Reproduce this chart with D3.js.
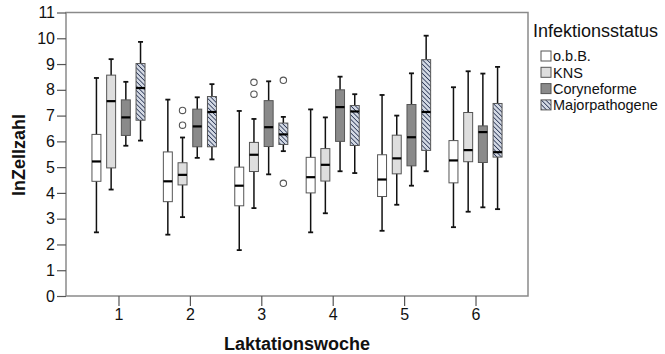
<!DOCTYPE html>
<html>
<head>
<meta charset="utf-8">
<script src="https://cdn.jsdelivr.net/npm/d3@7"></script>
<style>
  body { margin: 0; background: #fff; }
  svg { font-family: "Liberation Sans", Arial, sans-serif; }
</style>
</head>
<body>
<div id="chart"></div>
<script>
// week categories and infection groups
const weeks = ["1", "2", "3", "4", "5", "6"];
const groups = ["o.b.B.", "KNS", "Coryneforme", "Majorpathogene"];
const yTicks = [0, 1, 2, 3, 4, 5, 6, 7, 8, 9, 10, 11];

// [min, q1, median, q3, max] per week
const obB = [
    [2.47, 4.45, 5.22, 6.27, 8.46],
    [2.38, 3.66, 4.45, 5.59, 7.62],
    [1.78, 3.50, 4.28, 5.00, 7.18],
    [2.47, 4.00, 4.61, 5.38, 7.24],
    [2.53, 3.86, 4.52, 5.48, 7.80],
    [2.67, 4.39, 5.26, 6.03, 8.10]
];
const kns = [
    [4.13, 4.97, 7.56, 8.57, 9.19],
    [3.06, 4.31, 4.70, 5.17, 6.15],
    [3.41, 4.83, 5.48, 5.96, 6.87],
    [3.21, 4.46, 5.09, 5.72, 6.93],
    [3.54, 4.74, 5.34, 6.24, 7.00],
    [3.27, 5.21, 5.66, 7.12, 8.72]
];
const coryne = [
    [5.83, 6.23, 6.93, 7.61, 8.31],
    [5.36, 5.79, 6.58, 7.25, 7.71],
    [4.72, 5.80, 6.55, 7.58, 8.33],
    [4.84, 6.00, 7.33, 8.00, 8.51],
    [4.28, 5.05, 6.16, 7.43, 8.64],
    [3.44, 5.18, 6.36, 6.60, 8.63]
];
const major = [
    [6.03, 6.82, 8.07, 9.02, 9.86],
    [5.30, 5.79, 7.14, 7.74, 8.22],
    [5.62, 5.88, 6.27, 6.71, 6.95],
    [4.77, 5.84, 7.16, 7.39, 7.83],
    [4.84, 5.65, 7.14, 9.17, 10.10],
    [3.37, 5.39, 5.58, 7.47, 8.89]
];

// outliers: [week, group, value]
const outliers = [
    ["2", "KNS", 7.20], ["2", "KNS", 6.63],
    ["3", "KNS", 8.29], ["3", "KNS", 7.83],
    ["3", "Majorpathogene", 8.37], ["3", "Majorpathogene", 4.37]
];

const seriesData = [obB, kns, coryne, major];
const fills = ["#ffffff", "#dedede", "#8a8a8a", "url(#hatch)"];

const width = 665;
const height = 354;
const plot = {left: 66, right: 528, top: 12.5, bottom: 296};

let svg = d3.select("#chart")
    .append("svg")
    .attr("width", width)
    .attr("height", height);

// hatch pattern for Majorpathogene
let pattern = svg.append("defs")
    .append("pattern")
    .attr("id", "hatch")
    .attr("patternUnits", "userSpaceOnUse")
    .attr("width", 3.2)
    .attr("height", 3.2)
    .attr("patternTransform", "rotate(-45)");
pattern.append("rect")
    .attr("width", 3.2)
    .attr("height", 3.2)
    .attr("fill", "#d3d9e4");
pattern.append("line")
    .attr("x1", 0).attr("y1", 0)
    .attr("x2", 0).attr("y2", 3.2)
    .attr("stroke", "#2b3656")
    .attr("stroke-width", 1.6);

let xScale = d3.scalePoint()
    .domain(weeks)
    .range([plot.left, plot.right])
    .padding(0.735);

let innerScale = d3.scaleBand()
    .domain(groups)
    .range([-29.4, 29.4])
    .paddingInner(0.39)
    .paddingOuter(0.195);

let yScale = d3.scaleLinear()
    .domain([0, 11])
    .range([plot.bottom, plot.top]);

// frame
svg.append("rect")
    .attr("x", plot.left)
    .attr("y", plot.top)
    .attr("width", plot.right - plot.left)
    .attr("height", plot.bottom - plot.top)
    .attr("fill", "none")
    .attr("stroke", "#8a8a8a")
    .attr("stroke-width", 1.5);

// axes
let yAxis = svg.append("g")
    .attr("transform", "translate(" + plot.left + ",0)")
    .call(d3.axisLeft(yScale).tickValues(yTicks).tickSize(9).tickPadding(2).tickFormat(d3.format("d")));
let xAxis = svg.append("g")
    .attr("transform", "translate(0," + plot.bottom + ")")
    .call(d3.axisBottom(xScale).tickSize(10).tickPadding(3));

[yAxis, xAxis].forEach(function (ax) {
    ax.select(".domain").remove();
    ax.selectAll(".tick line").attr("stroke", "#555").attr("stroke-width", 1.2);
    ax.selectAll(".tick text")
        .attr("fill", "#111")
        .style("font-size", "16px");
});

// boxes
let boxLayer = svg.append("g").attr("class", "boxes");
groups.forEach(function (g, gi) {
    let bw = innerScale.bandwidth();
    seriesData[gi].forEach(function (s, wi) {
        let cx = xScale(weeks[wi]) + innerScale(g) + bw / 2;
        let box = boxLayer.append("g");
        // whisker
        box.append("line")
            .attr("x1", cx).attr("x2", cx)
            .attr("y1", yScale(s[0])).attr("y2", yScale(s[4]))
            .attr("stroke", "#111").attr("stroke-width", 1.5);
        [s[0], s[4]].forEach(function (v) {
            box.append("line")
                .attr("x1", cx - 2.5).attr("x2", cx + 2.5)
                .attr("y1", yScale(v)).attr("y2", yScale(v))
                .attr("stroke", "#111").attr("stroke-width", 1.8);
        });
        box.append("rect")
            .attr("x", cx - bw / 2)
            .attr("y", yScale(s[3]))
            .attr("width", bw)
            .attr("height", yScale(s[1]) - yScale(s[3]))
            .attr("fill", fills[gi])
            .attr("stroke", "#555")
            .attr("stroke-width", 1);
        box.append("line")
            .attr("x1", cx - bw / 2).attr("x2", cx + bw / 2)
            .attr("y1", yScale(s[2])).attr("y2", yScale(s[2]))
            .attr("stroke", "#000").attr("stroke-width", 2.2);
    });
});

// outliers
boxLayer.selectAll(".outlier")
    .data(outliers)
    .enter()
    .append("circle")
    .attr("class", "outlier")
    .attr("cx", function (d) {
        return xScale(d[0]) + innerScale(d[1]) + innerScale.bandwidth() / 2;
    })
    .attr("cy", function (d) { return yScale(d[2]); })
    .attr("r", 3.2)
    .attr("fill", "#fff")
    .attr("stroke", "#555")
    .attr("stroke-width", 1.1);

// axis titles
svg.append("text")
    .attr("transform", "translate(25," + 155 + ") rotate(-90)")
    .style("text-anchor", "middle")
    .style("font-size", "18px")
    .style("font-weight", "bold")
    .attr("fill", "#111")
    .text("lnZellzahl");

svg.append("text")
    .attr("x", (plot.left + plot.right) / 2)
    .attr("y", 350)
    .style("text-anchor", "middle")
    .style("font-size", "18px")
    .style("font-weight", "bold")
    .attr("fill", "#111")
    .text("Laktationswoche");

// legend
let legend = svg.append("g").attr("class", "legend");
legend.append("text")
    .attr("x", 533)
    .attr("y", 37)
    .style("font-size", "18px")
    .attr("fill", "#111")
    .text("Infektionsstatus");

let items = legend.selectAll(".item")
    .data(groups)
    .enter()
    .append("g")
    .attr("class", "item")
    .attr("transform", function (d, i) {
        return "translate(541," + (56 + i * 16.3) + ")";
    });
items.append("rect")
    .attr("x", 0)
    .attr("y", -5)
    .attr("width", 10)
    .attr("height", 10)
    .attr("fill", function (d, i) { return fills[i]; })
    .attr("stroke", "#555")
    .attr("stroke-width", 1);
items.append("text")
    .attr("x", 12)
    .attr("dy", "0.36em")
    .style("font-size", "14.5px")
    .attr("fill", "#111")
    .text(function (d) { return d; });
</script>
</body>
</html>
